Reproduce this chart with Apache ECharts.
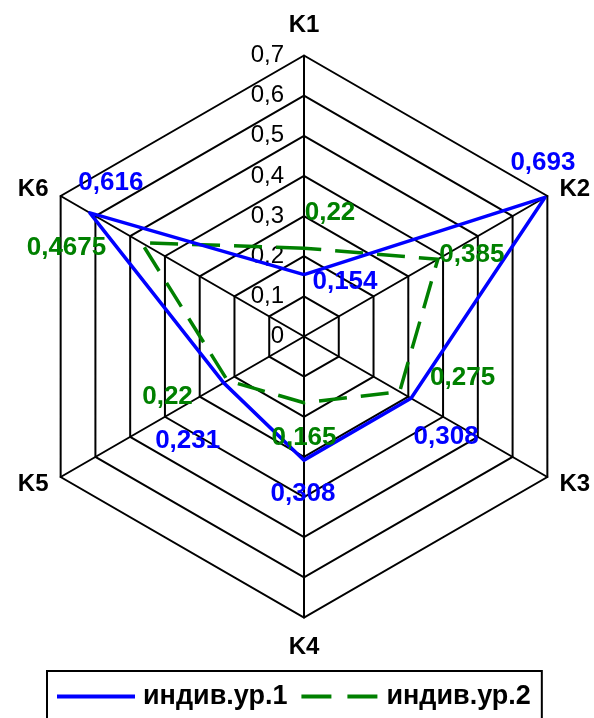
<!DOCTYPE html>
<html><head><meta charset="utf-8">
<script src="https://cdn.jsdelivr.net/npm/echarts@6/dist/echarts.min.js"></script>
<style>html,body{margin:0;padding:0;background:#fff}#c{width:594px;height:718px}</style>
</head><body><div id="c"></div>
<script>
// ---- data ----
const categories = ['K1', 'K2', 'K3', 'K4', 'K5', 'K6'];
const seriesNames = ['индив.ур.1', 'индив.ур.2'];
const values1 = [0.154, 0.693, 0.308, 0.308, 0.231, 0.616];
const values2 = [0.22, 0.385, 0.275, 0.165, 0.22, 0.4675];
const axisMin = 0, axisMax = 0.7, axisStep = 0.1;

// ---- layout / style ----
const FONT = 'Liberation Sans';
const BLUE = '#0000FF', GREEN = '#008000';
const CENTER = [304, 336.5], RADIUS = 281;
const labelOffsets1 = [[41, 7], [-2, -35], [35, 39], [-1, 34], [-36, 58], [21, -30]];
const labelOffsets2 = [[26, -35], [34, -4], [63, -14], [0, 35], [-60, 16], [-75, 5]];
// radar places indicators counter-clockwise; reorder so K2 sits at upper right
const order = [0, 5, 4, 3, 2, 1];

const fmt = v => String(Math.round(v * 10000) / 10000).replace('.', ',');

const indicators = order.map((idx, k) => {
  const ind = { name: categories[idx], min: axisMin, max: axisMax };
  if (k === 0) ind.axisLabel = { show: true };
  return ind;
});

function labelPoints(vals, offs, color) {
  return vals.map((v, i) => ({
    value: [v, categories[i]],
    label: {
      show: true, position: 'inside', offset: offs[i],
      formatter: fmt(v), color: color, fontFamily: FONT, fontWeight: 'bold', fontSize: 26
    }
  }));
}

const chart = echarts.init(document.getElementById('c'), null, { renderer: 'canvas' });
chart.setOption({
  animation: false,
  backgroundColor: '#fff',
  radar: {
    center: CENTER,
    radius: RADIUS,
    startAngle: 90,
    shape: 'polygon',
    splitNumber: Math.round((axisMax - axisMin) / axisStep),
    indicator: indicators,
    nameGap: 14,
    axisName: {
      color: '#000', fontFamily: FONT, fontWeight: 'bold', fontSize: 24, padding: [4, 0, 4, 0]
    },
    axisLine: { show: true, lineStyle: { color: '#000', width: 2 } },
    splitLine: { show: true, lineStyle: { color: '#000', width: 2 } },
    splitArea: { show: false },
    axisTick: { show: false },
    axisLabel: {
      show: false, color: '#000', fontFamily: FONT, fontSize: 24, margin: 20,
      showMinLabel: true, showMaxLabel: true,
      formatter: v => fmt(v)
    }
  },
  polar: { center: CENTER, radius: RADIUS },
  angleAxis: {
    type: 'category', data: categories, startAngle: 120, clockwise: true,
    boundaryGap: true, show: false
  },
  radiusAxis: { type: 'value', min: axisMin, max: axisMax, show: false },
  legend: {
    left: 47, top: 671,
    padding: [12, 11, 20, 10],
    borderColor: '#000', borderWidth: 2, borderRadius: 0,
    itemGap: 14, itemWidth: 78, itemHeight: 4,
    itemStyle: { borderWidth: 0 },
    textStyle: { color: '#000', fontFamily: FONT, fontWeight: 'bold', fontSize: 27, padding: [0, 0, 0, 3] },
    data: [
      { name: seriesNames[0], icon: 'rect' },
      { name: seriesNames[1], icon: 'path://M0,0h30v4h-30z M46,0h30v4h-30z' }
    ]
  },
  series: [
    {
      name: seriesNames[1], type: 'radar', z: 2, symbol: 'none',
      itemStyle: { color: GREEN },
      lineStyle: { color: GREEN, width: 3.5, type: [28, 14] },
      data: [{ value: order.map(i => values2[i]), name: seriesNames[1] }]
    },
    {
      name: seriesNames[0], type: 'radar', z: 3, symbol: 'none',
      itemStyle: { color: BLUE },
      lineStyle: { color: BLUE, width: 3.5, type: 'solid' },
      data: [{ value: order.map(i => values1[i]), name: seriesNames[0] }]
    },
    {
      type: 'scatter', coordinateSystem: 'polar', symbolSize: 0, silent: true, z: 5,
      itemStyle: { opacity: 1, color: GREEN },
      data: labelPoints(values2, labelOffsets2, GREEN)
    },
    {
      type: 'scatter', coordinateSystem: 'polar', symbolSize: 0, silent: true, z: 5,
      itemStyle: { opacity: 1, color: BLUE },
      data: labelPoints(values1, labelOffsets1, BLUE)
    }
  ]
});
</script>
</body></html>
